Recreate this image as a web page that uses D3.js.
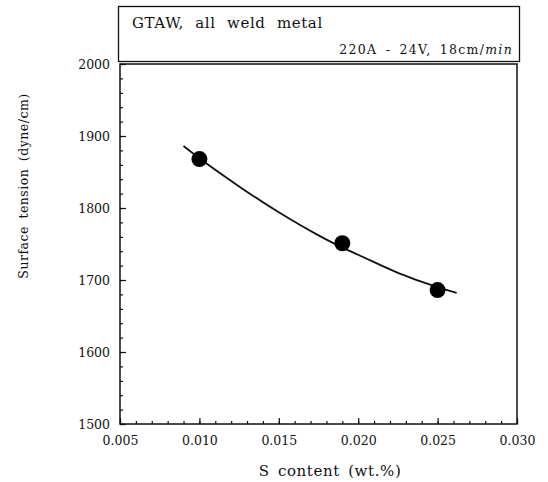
<!DOCTYPE html>
<html>
<head>
<meta charset="utf-8">
<script src="https://cdn.jsdelivr.net/npm/d3@7"></script>
<style>
  body { margin: 0; background: #fff; }
  text { font-family: "DejaVu Serif", "Liberation Serif", serif; fill: #111; }
</style>
</head>
<body>
<svg width="548" height="482"></svg>
<script>
const width = 548;
const height = 482;
const margin = { top: 64, right: 31, bottom: 58, left: 120 };

// measured points
const sContent = [0.010, 0.019, 0.025];
const tension = [1868, 1751, 1686];

// fitted curve
const curveX = [0.009, 0.010, 0.0125, 0.015, 0.0175, 0.019, 0.020, 0.0225, 0.025, 0.0262];
const curveY = [1886, 1869, 1830, 1794, 1762, 1745, 1735, 1710, 1690, 1682];

const xTicks = [0.005, 0.010, 0.015, 0.020, 0.025, 0.030];
const yTicks = [1500, 1600, 1700, 1800, 1900, 2000];

const svg = d3.select("svg");

const x = d3.scaleLinear()
  .domain([0.005, 0.030])
  .range([margin.left, width - margin.right]);

const y = d3.scaleLinear()
  .domain([1500, 2000])
  .range([height - margin.bottom, margin.top]);

// Caja del encabezado
svg.append("rect")
  .attr("x", 118.5).attr("y", 6.5)
  .attr("width", 401).attr("height", 55)
  .attr("fill", "none")
  .attr("stroke", "#111")
  .attr("stroke-width", 1.3);

svg.append("text")
  .attr("x", 132)
  .attr("y", 28)
  .style("font-size", "15px")
  .style("word-spacing", "6px")
  .style("letter-spacing", "0.6px")
  .text("GTAW, all weld metal");

const sub = svg.append("text")
  .attr("x", 513)
  .attr("y", 54)
  .attr("text-anchor", "end")
  .style("font-size", "12.5px")
  .style("letter-spacing", "1.3px")
  .style("word-spacing", "3px");
sub.append("tspan").text("220A - 24V, 18cm/");
sub.append("tspan").style("font-style", "italic").text("min");

// Marco del grafico
svg.append("rect")
  .attr("x", x(0.005)).attr("y", y(2000))
  .attr("width", x(0.030) - x(0.005))
  .attr("height", y(1500) - y(2000))
  .attr("fill", "none")
  .attr("stroke", "#111")
  .attr("stroke-width", 1.5);

// Ticks menores hacia adentro
const xMinor = d3.range(5, 31).map(d => d / 1000);
svg.append("g")
  .attr("transform", `translate(0,${y(1500)})`)
  .call(d3.axisBottom(x).tickValues(xMinor).tickSize(-3).tickFormat(""))
  .call(g => g.select(".domain").remove());

svg.append("g")
  .attr("transform", `translate(0,${y(1500)})`)
  .call(d3.axisBottom(x).tickValues(xTicks).tickSize(-6).tickPadding(12)
    .tickFormat(d3.format(".3f")))
  .call(g => g.select(".domain").remove())
  .call(g => g.selectAll("text")
    .style("font-family", "'DejaVu Serif', serif")
    .style("font-size", "12.5px")
    .attr("fill", "#111"));

const yMinor = d3.range(1500, 2001, 20);
svg.append("g")
  .attr("transform", `translate(${x(0.005)},0)`)
  .call(d3.axisLeft(y).tickValues(yMinor).tickSize(-3).tickFormat(""))
  .call(g => g.select(".domain").remove());

svg.append("g")
  .attr("transform", `translate(${x(0.005)},0)`)
  .call(d3.axisLeft(y).tickValues(yTicks).tickSize(-6).tickPadding(10)
    .tickFormat(d3.format("d")))
  .call(g => g.select(".domain").remove())
  .call(g => g.selectAll("text")
    .style("font-family", "'DejaVu Serif', serif")
    .style("font-size", "12.5px")
    .attr("fill", "#111"));

svg.selectAll(".tick line").attr("stroke", "#111").attr("stroke-width", 1.2);

// Curva
const line = d3.line()
  .x((d, i) => x(curveX[i]))
  .y(d => y(d))
  .curve(d3.curveMonotoneX);

svg.append("path")
  .datum(curveY)
  .attr("d", line)
  .attr("fill", "none")
  .attr("stroke", "#111")
  .attr("stroke-width", 1.8);

// Puntos
svg.selectAll("circle.pt")
  .data(tension)
  .join("circle")
  .attr("class", "pt")
  .attr("cx", (d, i) => x(sContent[i]))
  .attr("cy", d => y(d))
  .attr("r", 8)
  .attr("fill", "#000");

// Etiquetas de ejes
svg.append("text")
  .attr("x", 330)
  .attr("y", 476)
  .attr("text-anchor", "middle")
  .style("font-size", "15px")
  .style("letter-spacing", "0.6px")
  .style("word-spacing", "3px")
  .text("S content (wt.%)");

svg.append("text")
  .attr("transform", "translate(28,186) rotate(-90)")
  .attr("text-anchor", "middle")
  .style("font-size", "12.5px")
  .style("letter-spacing", "0.5px")
  .style("word-spacing", "3px")
  .text("Surface tension (dyne/cm)");
</script>
</body>
</html>
